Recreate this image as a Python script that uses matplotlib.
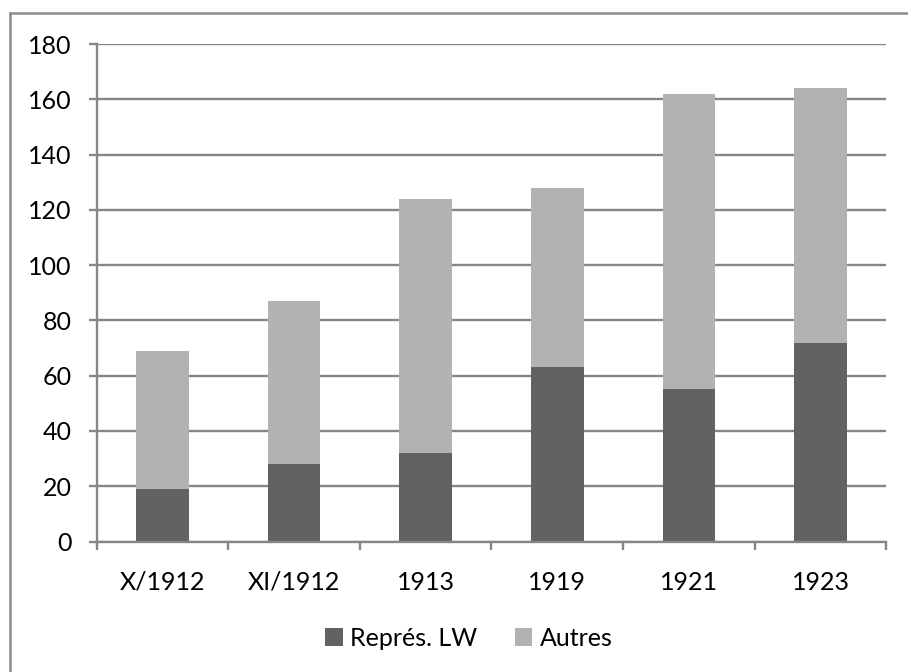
import matplotlib
matplotlib.use("Agg")
import matplotlib.pyplot as plt
from matplotlib.lines import Line2D
from matplotlib.patches import Patch
import numpy as np

plt.rcParams['font.family'] = ['Lato', 'DejaVu Sans']

categories = ["X/1912", "XI/1912", "1913", "1919", "1921", "1923"]
repres_lw = [19, 28, 32, 63, 55, 72]
autres = [50, 59, 92, 65, 107, 92]
series_names = ["Représ. LW", "Autres"]
yticks = [0, 20, 40, 60, 80, 100, 120, 140, 160, 180]

dark = "#626262"
light = "#b2b2b2"
grid_c = "#868686"
fs = 18

W, H = 908, 672
fig = plt.figure(figsize=(W / 100, H / 100), dpi=100)
fig.patch.set_facecolor("white")

# plot area in pixel coordinates
left, right, top, bottom = 96.7, 886.3, 44.0, 541.5
ax = fig.add_axes([left / W, 1 - bottom / H, (right - left) / W, (bottom - top) / H])

x = np.arange(len(categories))
ax.bar(x, repres_lw, width=0.4, color=dark, zorder=3)
ax.bar(x, autres, width=0.4, bottom=repres_lw, color=light, zorder=3)

ax.set_xlim(-0.5, len(categories) - 0.5)
ax.set_ylim(0, 180)
ax.set_yticks(yticks)
ax.set_yticklabels([str(v) for v in yticks], fontsize=fs)

# horizontal gridlines
for v in yticks:
    ax.axhline(v, color=grid_c, lw=1.7, zorder=1)

for s in ["top", "right"]:
    ax.spines[s].set_visible(False)
for s in ["left", "bottom"]:
    ax.spines[s].set_color(grid_c)
    ax.spines[s].set_linewidth(1.7)
ax.spines["bottom"].set_zorder(4)

ax.tick_params(axis="y", direction="out", length=6, width=1.7, color=grid_c, pad=12)
ax.set_xticks(np.arange(-0.5, len(categories), 1.0))
ax.set_xticklabels([])
ax.set_xticks(x, minor=True)
ax.set_xticklabels(categories, minor=True, fontsize=fs)
ax.tick_params(axis="x", which="major", direction="out", length=6, width=1.7, color=grid_c)
ax.tick_params(axis="x", which="minor", length=0, pad=21)

handles = [Patch(facecolor=dark, edgecolor="none"), Patch(facecolor=light, edgecolor="none")]
fig.legend(handles, series_names, loc="center", bbox_to_anchor=(469 / W, 1 - 638 / H),
           ncol=2, frameon=False, fontsize=fs, handlelength=0.7, handleheight=0.7,
           handletextpad=0.3, columnspacing=1.5)

# chart frame (top and left edges)
fig.add_artist(Line2D([10 / W, 10 / W], [0, 1 - 13 / H], transform=fig.transFigure,
                      color="#8c8c8c", lw=1.8))
fig.add_artist(Line2D([10 / W, 1], [1 - 13 / H, 1 - 13 / H], transform=fig.transFigure,
                      color="#8c8c8c", lw=1.8))

fig.savefig("out.png", dpi=100)
